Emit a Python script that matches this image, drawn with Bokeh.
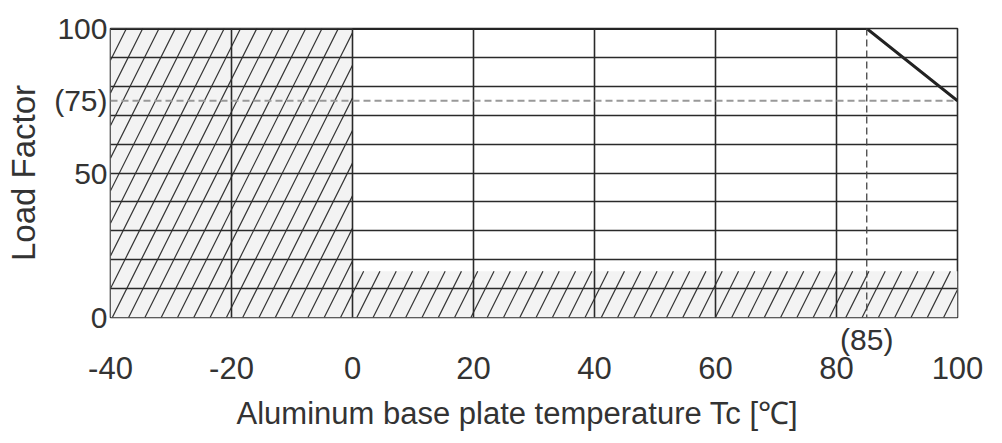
import numpy as np
from bokeh.plotting import figure
from bokeh.models import Range1d, FixedTicker, Span, LinearAxis, Title
from bokeh.embed import file_html
from bokeh.resources import INLINE

# ---------------- data ----------------
curve_x = [-40, 85, 100]            # Tc (°C)
curve_y = [100, 100, 75]            # load factor (%)
x_ticks = [-40, -20, 0, 20, 40, 60, 80, 100]
x_tick_labels = {-40: "-40", -20: "-20", 0: "0", 20: "20", 40: "40",
                 60: "60", 80: "80", 100: "100"}
y_ticks = [0, 50, 75, 100]
y_tick_labels = {0: "0", 50: "50", 75: "(75)", 100: "100"}
x_grid = [-20, 0, 20, 40, 60, 80]
y_grid = [10, 20, 30, 40, 50, 60, 70, 80, 90]
hatch_left = [-40, 0]
hatch_right = [0, 100]
hatch_bottom = [0, 0]
hatch_top = [100, 16]
knee_temp = 85
knee_label = "(85)"
min_load = 75
x_title = "Aluminum base plate temperature Tc [℃]"
y_title = "Load Factor"

FONT = "Liberation Sans"
TXT = "#333333"

W, H = 1002, 443
BL, BR, BT, BB = 110, 45, 28, 126
p = figure(width=W, height=H, output_backend="svg", toolbar_location=None,
           x_range=Range1d(-40, 100), y_range=Range1d(0, 100),
           min_border_left=BL, min_border_right=BR, min_border_top=BT,
           min_border_bottom=BB)
p.background_fill_color = "white"
p.border_fill_color = "white"
p.outline_line_color = "#2a2a2a"
p.outline_line_width = 1.6

# grids
p.xgrid.ticker = FixedTicker(ticks=x_grid)
p.ygrid.ticker = FixedTicker(ticks=y_grid)
for g in (p.xgrid, p.ygrid):
    g.grid_line_color = "#2a2a2a"
    g.grid_line_width = 1.6
    g.grid_line_alpha = 1.0
    g.level = "glyph"

def style_axis(ax, size):
    ax.axis_line_color = None
    ax.major_tick_line_color = None
    ax.minor_tick_line_color = None
    ax.major_tick_out = 0
    ax.major_tick_in = 0
    ax.minor_tick_out = 0
    ax.minor_tick_in = 0
    ax.major_label_text_font = FONT
    ax.major_label_text_color = TXT
    ax.major_label_text_font_size = size

# first below axis: the knee temperature "(85)"
kx = p.xaxis[0]
kx.ticker = FixedTicker(ticks=[knee_temp])
kx.major_label_overrides = {knee_temp: knee_label}
style_axis(kx, "30px")
kx.major_label_standoff = 5

# second below axis: the main temperature ticks
mx = LinearAxis(ticker=FixedTicker(ticks=x_ticks),
                major_label_overrides=x_tick_labels)
style_axis(mx, "31px")
mx.major_label_standoff = -2
p.add_layout(mx, "below")

# y axis
p.yaxis.ticker = FixedTicker(ticks=y_ticks)
p.yaxis.major_label_overrides = y_tick_labels
style_axis(p.yaxis[0], "30px")
p.yaxis.major_label_standoff = 3
p.yaxis.axis_label = y_title
p.yaxis.axis_label_text_font = FONT
p.yaxis.axis_label_text_font_size = "33px"
p.yaxis.axis_label_text_font_style = "normal"
p.yaxis.axis_label_text_color = TXT
p.yaxis.axis_label_standoff = 9

# x title
p.add_layout(Title(text=x_title, align="left", offset=126, text_font=FONT,
                   text_font_size="31px", text_font_style="normal",
                   text_color=TXT, standoff=25), "below")

# hatched (non-operating) regions
quads = p.quad(left=hatch_left, right=hatch_right, bottom=hatch_bottom, top=hatch_top,
               fill_color="#f3f3f3", line_color=None)
quads.level = "underlay"

frame_w = W - BL - BR
frame_h = H - BT - BB
px_x = frame_w / (100 - (-40))
px_y = frame_h / (100 - 0)
k = 0.5 * px_y / px_x            # x shift per unit y (steep "/")
spacing = 16.3 / px_x            # horizontal spacing in data units
xs0, ys0, xs1, ys1 = [], [], [], []
for x0, x1, y0, y1 in zip(hatch_left, hatch_right, hatch_bottom, hatch_top):
    cmin = x0 - k * y1
    cmax = x1 - k * y0
    n0 = int(np.floor((cmin - (-40)) / spacing))
    n1 = int(np.ceil((cmax - (-40)) / spacing))
    for n in range(n0, n1 + 1):
        c = -40 + n * spacing + 0.3
        ylo = max(y0, (x0 - c) / k)
        yhi = min(y1, (x1 - c) / k)
        if yhi - ylo > 1e-6:
            xs0.append(c + k * ylo); ys0.append(ylo)
            xs1.append(c + k * yhi); ys1.append(yhi)
p.segment(x0=xs0, y0=ys0, x1=xs1, y1=ys1, line_color="#333333", line_width=1.2)

# reference dashed lines
p.add_layout(Span(location=min_load, dimension="width", line_color="#999999",
                  line_width=2, line_dash="7 4"))
p.add_layout(Span(location=knee_temp, dimension="height", line_color="#444444",
                  line_width=1.3, line_dash="7 4"))

# derating curve
p.line(curve_x, curve_y, line_color="#222222", line_width=3)

open("out.html", "w").write(file_html(p, INLINE))
